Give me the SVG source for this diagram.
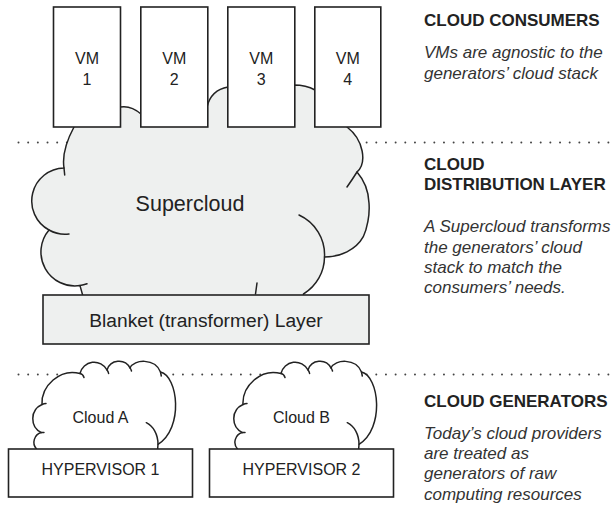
<svg xmlns="http://www.w3.org/2000/svg" xmlns:xlink="http://www.w3.org/1999/xlink" width="613" height="505" viewBox="0 0 613 505">
<style>
  .ln{fill:none;stroke:#222;stroke-width:1.5;stroke-linecap:round;stroke-linejoin:round}
  .box{fill:#fff;stroke:#222;stroke-width:1.6}
  .gbox{fill:#eef0ef;stroke:#222;stroke-width:1.6}
  .dots{fill:none;stroke:#444;stroke-width:2;stroke-linecap:round;stroke-dasharray:0 9.67}
  .t{font-family:"Liberation Sans",Arial,Helvetica,sans-serif;fill:#222}
  .c{text-anchor:middle}
  .h{font-family:"Liberation Sans",Arial,Helvetica,sans-serif;font-weight:bold;font-size:17px;fill:#222}
  .i{font-family:"Liberation Sans",Arial,Helvetica,sans-serif;font-style:italic;font-size:17px;fill:#333}
</style>
<defs>
  <g id="smallCloud">
    <path fill="#fff" stroke="#222" stroke-width="1.5" stroke-linejoin="round" d="M36.5,451 L36.5,449 A10 10 0 0 1 41.5,432.6 A15.5 15.5 0 0 1 42,404.5 C41,386 60,368 80,373.5 A14.5 14.5 0 0 1 107,370 A12.5 12.5 0 0 1 130,368 C134,359 155,358 160.5,372 C178,376 184,428 158,444.3 L157.5,451 Z"/>
    <path class="ln" d="M41.5,432.6 L44,432.4 M42,404.5 Q44,403.6 46,403.5 M80,373.5 Q83,374 84,377.5 M107,370 Q108.3,371.5 108.6,373.5 M130,368 Q131,369 131.5,371 M160.5,372 L161.3,376 M146.3,422.7 C153,426 158,434 158,444.3"/>
  </g>
</defs>

<g id="dividers">
  <line class="dots" x1="18.5" y1="142.5" x2="612" y2="142.5"/>
  <line class="dots" x1="18.5" y1="374.5" x2="612" y2="374.5"/>
</g>

<g id="supercloud">
  <path fill="#eef0ef" stroke="#222" stroke-width="1.5" stroke-linejoin="round" d="M74,118 L74,127 C67,140 62,155 64,168 A33 33 0 0 0 49,230 A34 34 0 0 0 80,285.6 L84,300 L303,300 L303.5,294 A43.6 43.6 0 0 0 324.5,257 C340,257 356,250 363.3,236.7 C367,229 370,215 369,203 C368.5,190 364,180 357,172 C367,163 364,140 347,127 L347,118 L315,90 Q306,85 294,85 L228,87 Q211,90 207,107 L141,114 Q131,105 120,107 L110,110 Z"/>
  <path class="ln" d="M64,168 L64.7,175 M49,230 A33 33 0 0 0 69,234 M80,285.6 A34 34 0 0 0 87,283.8 M257,283 L255.5,294 M324.5,257 A43.6 43.6 0 0 0 299,215 M357,172 Q352,180 347,187"/>
  <text class="t c" x="190" y="211" font-size="21.5">Supercloud</text>
</g>

<g id="blanket">
  <rect class="gbox" x="43" y="295" width="326" height="49"/>
  <text class="t c" x="206" y="327" font-size="19.2">Blanket (transformer) Layer</text>
</g>

<g id="vm1">
  <rect class="box" x="53.5" y="7" width="67" height="120"/>
  <text class="t c" x="87" y="63.5" font-size="16">VM</text>
  <text class="t c" x="87" y="85" font-size="16">1</text>
</g>
<g id="vm2">
  <rect class="box" x="140.8" y="7" width="67" height="120"/>
  <text class="t c" x="174.3" y="63.5" font-size="16">VM</text>
  <text class="t c" x="174.3" y="85" font-size="16">2</text>
</g>
<g id="vm3">
  <rect class="box" x="227.8" y="7" width="67" height="120"/>
  <text class="t c" x="261.3" y="63.5" font-size="16">VM</text>
  <text class="t c" x="261.3" y="85" font-size="16">3</text>
</g>
<g id="vm4">
  <rect class="box" x="314.8" y="7" width="66" height="120"/>
  <text class="t c" x="347.8" y="63.5" font-size="16">VM</text>
  <text class="t c" x="347.8" y="85" font-size="16">4</text>
</g>

<g id="cloudA">
  <use xlink:href="#smallCloud" href="#smallCloud"/>
  <text class="t c" x="100.5" y="423" font-size="16">Cloud A</text>
</g>
<g id="cloudB">
  <use xlink:href="#smallCloud" href="#smallCloud" x="201"/>
  <text class="t c" x="301.5" y="423" font-size="16">Cloud B</text>
</g>

<g id="hypervisor1">
  <rect class="box" x="8.5" y="449" width="184" height="48"/>
  <text class="t c" x="100.5" y="475" font-size="16">HYPERVISOR 1</text>
</g>
<g id="hypervisor2">
  <rect class="box" x="209.5" y="449" width="184" height="48"/>
  <text class="t c" x="301.5" y="475" font-size="16">HYPERVISOR 2</text>
</g>

<g id="legend-consumers">
  <text class="h" x="424" y="26">CLOUD CONSUMERS</text>
  <text class="i" x="424" y="58">VMs are agnostic to the</text>
  <text class="i" x="424" y="79">generators’ cloud stack</text>
</g>
<g id="legend-distribution">
  <text class="h" x="424" y="170">CLOUD</text>
  <text class="h" x="424" y="190">DISTRIBUTION LAYER</text>
  <text class="i" x="424" y="232">A Supercloud transforms</text>
  <text class="i" x="424" y="253">the generators’ cloud</text>
  <text class="i" x="424" y="273">stack to match the</text>
  <text class="i" x="424" y="293">consumers’ needs.</text>
</g>
<g id="legend-generators">
  <text class="h" x="424" y="407">CLOUD GENERATORS</text>
  <text class="i" x="424" y="439">Today’s cloud providers</text>
  <text class="i" x="424" y="459">are treated as</text>
  <text class="i" x="424" y="479">generators of raw</text>
  <text class="i" x="424" y="500">computing resources</text>
</g>
</svg>
